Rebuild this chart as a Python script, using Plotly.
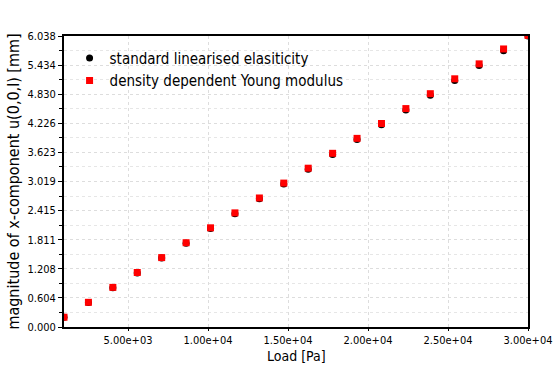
import plotly.graph_objects as go

load = [1000, 2526, 4053, 5579, 7105, 8632, 10158, 11684, 13211, 14737,
        16263, 17789, 19316, 20842, 22368, 23895, 25421, 26947, 28474, 30000]
u_standard = [0.201, 0.508, 0.816, 1.123, 1.430, 1.737, 2.044, 2.352, 2.659, 2.966,
              3.273, 3.580, 3.888, 4.195, 4.502, 4.809, 5.116, 5.424, 5.731, 6.038]
u_density = [0.203, 0.512, 0.822, 1.131, 1.440, 1.749, 2.058, 2.368, 2.677, 2.986,
             3.295, 3.604, 3.914, 4.223, 4.532, 4.841, 5.150, 5.460, 5.769, 6.050]

y_ticks = [0.000, 0.604, 1.208, 1.811, 2.415, 3.019, 3.623, 4.226, 4.830, 5.434, 6.038]
y_ticktext = ["0.000", "0.604", "1.208", "1.811", "2.415", "3.019", "3.623", "4.226", "4.830", "5.434", "6.038"]
x_ticks = [5000, 10000, 15000, 20000, 25000, 30000]
x_ticktext = ["5.00e+03", "1.00e+04", "1.50e+04", "2.00e+04", "2.50e+04", "3.00e+04"]
x_title = "Load [Pa]"
y_title = "magnitude of x-component u(0,0,l) [mm]"

FONT = "DejaVu Sans Condensed, DejaVu Sans, sans-serif"

fig = go.Figure()
fig.add_trace(go.Scatter(x=load, y=u_standard, mode="markers",
                         name="standard linearised elasiticity",
                         marker=dict(symbol="circle", size=7, color="black"),
                         cliponaxis=True))
fig.add_trace(go.Scatter(x=load, y=u_density, mode="markers",
                         name="density dependent Young modulus",
                         marker=dict(symbol="square", size=7, color="#ff0000"),
                         cliponaxis=True))

fig.add_annotation(text=x_title, xref="paper", yref="paper", x=0.5, y=-0.1306,
                   xanchor="center", yanchor="bottom", showarrow=False, borderpad=0,
                   font=dict(size=14, family=FONT, color="black"))

fig.update_layout(
    width=560, height=365,
    margin=dict(l=64, r=32, t=36, b=38),
    paper_bgcolor="white", plot_bgcolor="white",
    font=dict(family=FONT, size=11, color="black"),
    legend=dict(x=0.012, y=0.98, xanchor="left", yanchor="top",
                bgcolor="rgba(0,0,0,0)", font=dict(size=15, family=FONT),
                tracegroupgap=2),
    xaxis=dict(range=[1000, 30000], tickvals=x_ticks, ticktext=x_ticktext,
               showline=True, linecolor="black", linewidth=2, mirror=True,
               ticks="outside", ticklen=2, tickcolor="black",
               showgrid=True, gridcolor="#dddddd", griddash="dot", gridwidth=1,
               zeroline=False, automargin=False),
    yaxis=dict(range=[0, 6.038], tickvals=y_ticks, ticktext=y_ticktext,
               showline=True, linecolor="black", linewidth=2, mirror=True,
               ticks="outside", ticklen=4, tickcolor="black",
               showgrid=True, gridcolor="#dddddd", griddash="dot", gridwidth=1,
               zeroline=False, automargin=False,
               minor=dict(tickvals=[(y_ticks[i] + y_ticks[i + 1]) / 2 for i in range(len(y_ticks) - 1)],
                          ticks="outside", ticklen=3, tickcolor="black",
                          showgrid=True, gridcolor="#e6e6e6", griddash="dot"),
               title=dict(text=y_title, font=dict(size=16, family=FONT), standoff=4)),
)

fig.write_html("out.html")
